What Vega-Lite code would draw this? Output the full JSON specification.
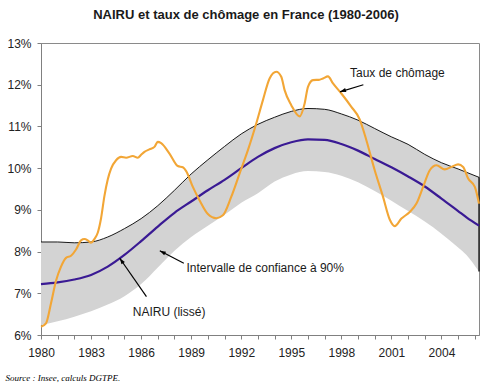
{
  "$schema": "https://vega.github.io/schema/vega-lite/v6.json",
  "width": 438,
  "height": 292,
  "autosize": {"type": "none"},
  "padding": {"left": 41, "top": 43, "right": 11, "bottom": 53},
  "background": "white",
  "title": {
    "text": "NAIRU et taux de chômage en France (1980-2006)",
    "font": "Liberation Sans",
    "fontSize": 13,
    "fontWeight": "bold",
    "color": "#1a1a1a",
    "anchor": "middle",
    "dx": -14,
    "baseline": "alphabetic",
    "offset": 5
  },
  "config": {
    "view": {"stroke": "#8a8a8a", "strokeWidth": 1},
    "font": "Liberation Sans"
  },
  "resolve": {"axis": {"x": "independent"}},
  "datasets": {
    "band": [
      {"year": 1980, "upper": 8.23, "nairu": 7.22, "lower": 6.24},
      {"year": 1981, "upper": 8.23, "nairu": 7.26, "lower": 6.33},
      {"year": 1982, "upper": 8.21, "nairu": 7.33, "lower": 6.44},
      {"year": 1983, "upper": 8.23, "nairu": 7.44, "lower": 6.57},
      {"year": 1984, "upper": 8.35, "nairu": 7.64, "lower": 6.73},
      {"year": 1985, "upper": 8.55, "nairu": 7.92, "lower": 6.93},
      {"year": 1986, "upper": 8.79, "nairu": 8.25, "lower": 7.22},
      {"year": 1987, "upper": 9.1, "nairu": 8.6, "lower": 7.62},
      {"year": 1988, "upper": 9.47, "nairu": 8.93, "lower": 8.02},
      {"year": 1989, "upper": 9.86, "nairu": 9.2, "lower": 8.35},
      {"year": 1990, "upper": 10.2, "nairu": 9.47, "lower": 8.62},
      {"year": 1991, "upper": 10.52, "nairu": 9.72, "lower": 8.88},
      {"year": 1992, "upper": 10.82, "nairu": 10.0, "lower": 9.17},
      {"year": 1993, "upper": 11.05, "nairu": 10.27, "lower": 9.4},
      {"year": 1994, "upper": 11.22, "nairu": 10.48, "lower": 9.68},
      {"year": 1995, "upper": 11.36, "nairu": 10.62, "lower": 9.85},
      {"year": 1996, "upper": 11.43, "nairu": 10.69, "lower": 9.93},
      {"year": 1997, "upper": 11.41, "nairu": 10.68, "lower": 9.91},
      {"year": 1998, "upper": 11.3, "nairu": 10.58, "lower": 9.82},
      {"year": 1999, "upper": 11.15, "nairu": 10.42, "lower": 9.66},
      {"year": 2000, "upper": 10.95, "nairu": 10.22, "lower": 9.45},
      {"year": 2001, "upper": 10.75, "nairu": 10.02, "lower": 9.22},
      {"year": 2002, "upper": 10.57, "nairu": 9.8, "lower": 8.97},
      {"year": 2003, "upper": 10.33, "nairu": 9.56, "lower": 8.72},
      {"year": 2004, "upper": 10.13, "nairu": 9.27, "lower": 8.43},
      {"year": 2005, "upper": 9.98, "nairu": 8.97, "lower": 8.1},
      {"year": 2005.5, "upper": 9.9, "nairu": 8.82, "lower": 7.92},
      {"year": 2006.25, "upper": 9.78, "nairu": 8.62, "lower": 7.52}
    ],
    "chomage": [
      {"year": 1980.0, "taux": 6.2},
      {"year": 1980.3, "taux": 6.28},
      {"year": 1980.6, "taux": 6.76},
      {"year": 1980.9, "taux": 7.3},
      {"year": 1981.2, "taux": 7.64},
      {"year": 1981.5, "taux": 7.85},
      {"year": 1981.8, "taux": 7.9},
      {"year": 1982.1, "taux": 8.05},
      {"year": 1982.4, "taux": 8.27},
      {"year": 1982.6, "taux": 8.3},
      {"year": 1982.8, "taux": 8.27},
      {"year": 1983.0, "taux": 8.21},
      {"year": 1983.2, "taux": 8.3},
      {"year": 1983.4, "taux": 8.45},
      {"year": 1983.6, "taux": 8.8},
      {"year": 1983.8, "taux": 9.33},
      {"year": 1984.0, "taux": 9.73},
      {"year": 1984.2, "taux": 9.99},
      {"year": 1984.5, "taux": 10.19},
      {"year": 1984.8, "taux": 10.27},
      {"year": 1985.1, "taux": 10.25},
      {"year": 1985.5, "taux": 10.29},
      {"year": 1985.8, "taux": 10.25},
      {"year": 1986.0, "taux": 10.32},
      {"year": 1986.2, "taux": 10.39},
      {"year": 1986.5, "taux": 10.45},
      {"year": 1986.8, "taux": 10.51},
      {"year": 1987.0, "taux": 10.63},
      {"year": 1987.2, "taux": 10.6},
      {"year": 1987.7, "taux": 10.35},
      {"year": 1988.2, "taux": 10.05},
      {"year": 1988.5, "taux": 10.02},
      {"year": 1988.7, "taux": 9.93},
      {"year": 1989.1, "taux": 9.55},
      {"year": 1989.5, "taux": 9.23},
      {"year": 1990.0, "taux": 8.9},
      {"year": 1990.5, "taux": 8.8},
      {"year": 1990.9, "taux": 8.87},
      {"year": 1991.4, "taux": 9.31},
      {"year": 1991.9, "taux": 9.87},
      {"year": 1992.4, "taux": 10.43},
      {"year": 1992.9, "taux": 11.07},
      {"year": 1993.3, "taux": 11.63},
      {"year": 1993.7, "taux": 12.15},
      {"year": 1994.1, "taux": 12.31},
      {"year": 1994.4, "taux": 12.19},
      {"year": 1994.6, "taux": 11.87},
      {"year": 1995.0, "taux": 11.51},
      {"year": 1995.5, "taux": 11.24},
      {"year": 1995.8, "taux": 11.55},
      {"year": 1996.0, "taux": 11.95},
      {"year": 1996.3, "taux": 12.11},
      {"year": 1996.7, "taux": 12.12},
      {"year": 1996.9, "taux": 12.15},
      {"year": 1997.2, "taux": 12.2},
      {"year": 1997.5, "taux": 12.03},
      {"year": 1998.0, "taux": 11.79},
      {"year": 1998.6, "taux": 11.47},
      {"year": 1999.1, "taux": 11.17},
      {"year": 1999.5, "taux": 10.67},
      {"year": 2000.0, "taux": 9.95},
      {"year": 2000.5, "taux": 9.31},
      {"year": 2000.9, "taux": 8.77},
      {"year": 2001.2, "taux": 8.61},
      {"year": 2001.6, "taux": 8.79},
      {"year": 2002.1, "taux": 8.95},
      {"year": 2002.5, "taux": 9.15},
      {"year": 2002.9, "taux": 9.55},
      {"year": 2003.3, "taux": 9.95},
      {"year": 2003.7, "taux": 10.07},
      {"year": 2004.2, "taux": 9.97},
      {"year": 2004.6, "taux": 10.03},
      {"year": 2005.0, "taux": 10.09},
      {"year": 2005.3, "taux": 10.03},
      {"year": 2005.6, "taux": 9.75},
      {"year": 2006.0, "taux": 9.55},
      {"year": 2006.25, "taux": 9.15}
    ],
    "notes": [
      {"label": "Taux de chômage", "tx": 1998.52, "ty": 12.29, "ax": 1999.32, "ay": 12.0, "bx": 1997.92, "by": 11.83},
      {"label": "Intervalle de confiance à 90%", "tx": 1988.72, "ty": 7.61, "ax": 1988.56, "ay": 7.72, "bx": 1987.12, "by": 8.02},
      {"label": "NAIRU (lissé)", "tx": 1985.5, "ty": 6.56, "ax": 1986.32, "ay": 6.92, "bx": 1984.72, "by": 7.84}
    ]
  },
  "layer": [
    {
      "data": {"name": "band"},
      "mark": {"type": "area", "color": "#d3d3d3", "interpolate": "monotone"},
      "encoding": {
        "x": {
          "field": "year",
          "type": "quantitative",
          "scale": {"domain": [1980, 2006.25], "nice": false, "zero": false},
          "axis": {
            "orient": "bottom",
            "values": [1980, 1981, 1982, 1983, 1984, 1985, 1986, 1987, 1988, 1989, 1990, 1991, 1992, 1993, 1994, 1995, 1996, 1997, 1998, 1999, 2000, 2001, 2002, 2003, 2004, 2005, 2006],
            "labels": false,
            "grid": false,
            "domainColor": "#808080",
            "tickColor": "#808080",
            "tickSize": 4,
            "title": "Source : Insee, calculs DGTPE.",
            "titleFont": "Liberation Serif",
            "titleFontStyle": "italic",
            "titleFontWeight": "normal",
            "titleFontSize": 9,
            "titleColor": "#000",
            "titleAnchor": null,
            "titleAlign": "left",
            "titleBaseline": "alphabetic",
            "titleX": -36,
            "titleY": 45
          }
        },
        "y": {
          "field": "lower",
          "type": "quantitative",
          "scale": {"domain": [6, 13], "nice": false, "zero": false},
          "axis": {
            "values": [6, 7, 8, 9, 10, 11, 12, 13],
            "labelExpr": "datum.value + '%'",
            "grid": false,
            "domainColor": "#808080",
            "tickColor": "#808080",
            "tickSize": 4,
            "labelPadding": 6,
            "labelFont": "Liberation Sans",
            "labelFontSize": 12,
            "labelColor": "#222",
            "labelFlush": false,
            "title": null
          }
        },
        "y2": {"field": "upper"}
      }
    },
    {
      "data": {"name": "band"},
      "mark": {"type": "line", "color": "#000", "strokeWidth": 0.9, "interpolate": "monotone"},
      "encoding": {
        "x": {
          "field": "year",
          "type": "quantitative",
          "axis": {
            "orient": "bottom",
            "values": [1980, 1983, 1986, 1989, 1992, 1995, 1998, 2001, 2004],
            "format": "d",
            "ticks": false,
            "domain": false,
            "grid": false,
            "labelPadding": 12,
            "labelFont": "Liberation Sans",
            "labelFontSize": 12,
            "labelColor": "#222",
            "labelFlush": false,
            "labelOverlap": false,
            "title": null
          }
        },
        "y": {"field": "upper", "type": "quantitative"}
      }
    },
    {
      "data": {"name": "band"},
      "transform": [{"filter": "datum.year == 2006.25"}],
      "mark": {"type": "rule", "color": "#000", "strokeWidth": 1.2},
      "encoding": {
        "x": {"field": "year", "type": "quantitative", "axis": null},
        "y": {"field": "lower", "type": "quantitative"},
        "y2": {"field": "upper"}
      }
    },
    {
      "data": {"name": "band"},
      "mark": {"type": "line", "color": "#3a1a94", "strokeWidth": 2.2, "interpolate": "monotone"},
      "encoding": {
        "x": {"field": "year", "type": "quantitative", "axis": null},
        "y": {"field": "nairu", "type": "quantitative"}
      }
    },
    {
      "data": {"name": "chomage"},
      "mark": {"type": "line", "color": "#f2a636", "strokeWidth": 2.1, "interpolate": "monotone"},
      "encoding": {
        "x": {"field": "year", "type": "quantitative", "axis": null},
        "y": {"field": "taux", "type": "quantitative"}
      }
    },
    {
      "data": {"name": "notes"},
      "mark": {"type": "rule", "color": "#000", "strokeWidth": 1.2},
      "encoding": {
        "x": {"field": "ax", "type": "quantitative", "axis": null},
        "y": {"field": "ay", "type": "quantitative"},
        "x2": {"field": "bx"},
        "y2": {"field": "by"}
      }
    },
    {
      "data": {"name": "notes"},
      "transform": [{"filter": "datum.label == 'Taux de chômage'"}],
      "mark": {"type": "point", "shape": "M0,0L0.75,2.2L-0.75,2.2Z", "filled": true, "color": "#000", "opacity": 1, "size": 30, "angle": -107.6},
      "encoding": {
        "x": {"field": "bx", "type": "quantitative", "axis": null},
        "y": {"field": "by", "type": "quantitative"}
      }
    },
    {
      "data": {"name": "notes"},
      "transform": [{"filter": "datum.label == 'Intervalle de confiance à 90%'"}],
      "mark": {"type": "point", "shape": "M0,0L0.75,2.2L-0.75,2.2Z", "filled": true, "color": "#000", "opacity": 1, "size": 30, "angle": -62.3},
      "encoding": {
        "x": {"field": "bx", "type": "quantitative", "axis": null},
        "y": {"field": "by", "type": "quantitative"}
      }
    },
    {
      "data": {"name": "notes"},
      "transform": [{"filter": "datum.label == 'NAIRU (lissé)'"}],
      "mark": {"type": "point", "shape": "M0,0L0.75,2.2L-0.75,2.2Z", "filled": true, "color": "#000", "opacity": 1, "size": 30, "angle": -34.8},
      "encoding": {
        "x": {"field": "bx", "type": "quantitative", "axis": null},
        "y": {"field": "by", "type": "quantitative"}
      }
    },
    {
      "data": {"name": "notes"},
      "mark": {"type": "text", "align": "left", "baseline": "middle", "font": "Liberation Sans", "fontSize": 12, "color": "#1a1a1a"},
      "encoding": {
        "x": {"field": "tx", "type": "quantitative", "axis": null},
        "y": {"field": "ty", "type": "quantitative"},
        "text": {"field": "label"}
      }
    }
  ]
}
